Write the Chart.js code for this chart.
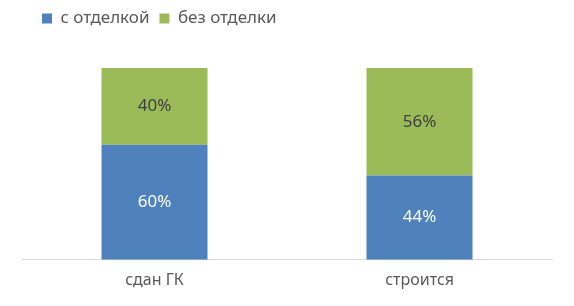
<!DOCTYPE html>
<html>
<head>
<meta charset="utf-8">
<script src="https://cdn.jsdelivr.net/npm/chart.js@4"></script>
<style>
  html, body { margin: 0; padding: 0; background: #fff; }
  #wrap { width: 574px; height: 306px; }
</style>
</head>
<body>
<div id="wrap"><canvas id="chart"></canvas></div>
<script>
const categories = ["сдан ГК", "строится"];
const seriesNames = ["с отделкой", "без отделки"];
const withFinish = [60, 44];
const withoutFinish = [40, 56];

const FONT = "'Noto Sans', 'Open Sans', sans-serif";

// draws the percent labels in the middle of each bar segment
const valueLabels = {
  id: "valueLabels",
  afterDatasetsDraw(chart) {
    const ctx = chart.ctx;
    ctx.save();
    ctx.font = "17px " + FONT;
    ctx.textAlign = "center";
    ctx.textBaseline = "middle";
    chart.data.datasets.forEach((ds, i) => {
      const meta = chart.getDatasetMeta(i);
      meta.data.forEach((bar, j) => {
        const mid = (bar.y + bar.base) / 2;
        ctx.fillStyle = ds.labelColor;
        ctx.fillText(ds.data[j] + "%", bar.x, mid);
      });
    });
    ctx.restore();
  }
};

// shift legend to the right and leave space below it
const legendTweak = {
  id: "legendTweak",
  beforeInit(chart) {
    const origFit = chart.legend.fit;
    chart.legend.fit = function () {
      origFit.call(this);
      this.height += 31;
    };
  },
  afterLayout(chart) {
    chart.legend.left += 10;
  }
};

new Chart(document.getElementById("chart"), {
  type: "bar",
  data: {
    labels: categories,
    datasets: [
      {
        label: seriesNames[0],
        data: withFinish,
        backgroundColor: "#4f81bd",
        labelColor: "#ffffff",
        categoryPercentage: 1,
        barPercentage: 0.4
      },
      {
        label: seriesNames[1],
        data: withoutFinish,
        backgroundColor: "#9bbb59",
        labelColor: "#404040",
        categoryPercentage: 1,
        barPercentage: 0.4
      }
    ]
  },
  options: {
    responsive: true,
    maintainAspectRatio: false,
    animation: false,
    layout: { padding: { left: 22, right: 22, top: 0, bottom: 13 } },
    plugins: {
      legend: {
        position: "top",
        align: "start",
        labels: {
          boxWidth: 10,
          boxHeight: 10,
          padding: 10,
          color: "#595959",
          font: { family: FONT, size: 17 }
        }
      },
      tooltip: { enabled: false }
    },
    scales: {
      x: {
        stacked: true,
        grid: { display: false },
        border: { display: true, color: "#d9d9d9", width: 1 },
        ticks: {
          color: "#595959",
          padding: 3,
          font: { family: FONT, size: 16 }
        }
      },
      y: {
        stacked: true,
        display: false,
        min: 0,
        max: 100
      }
    }
  },
  plugins: [valueLabels, legendTweak]
});
</script>
</body>
</html>
